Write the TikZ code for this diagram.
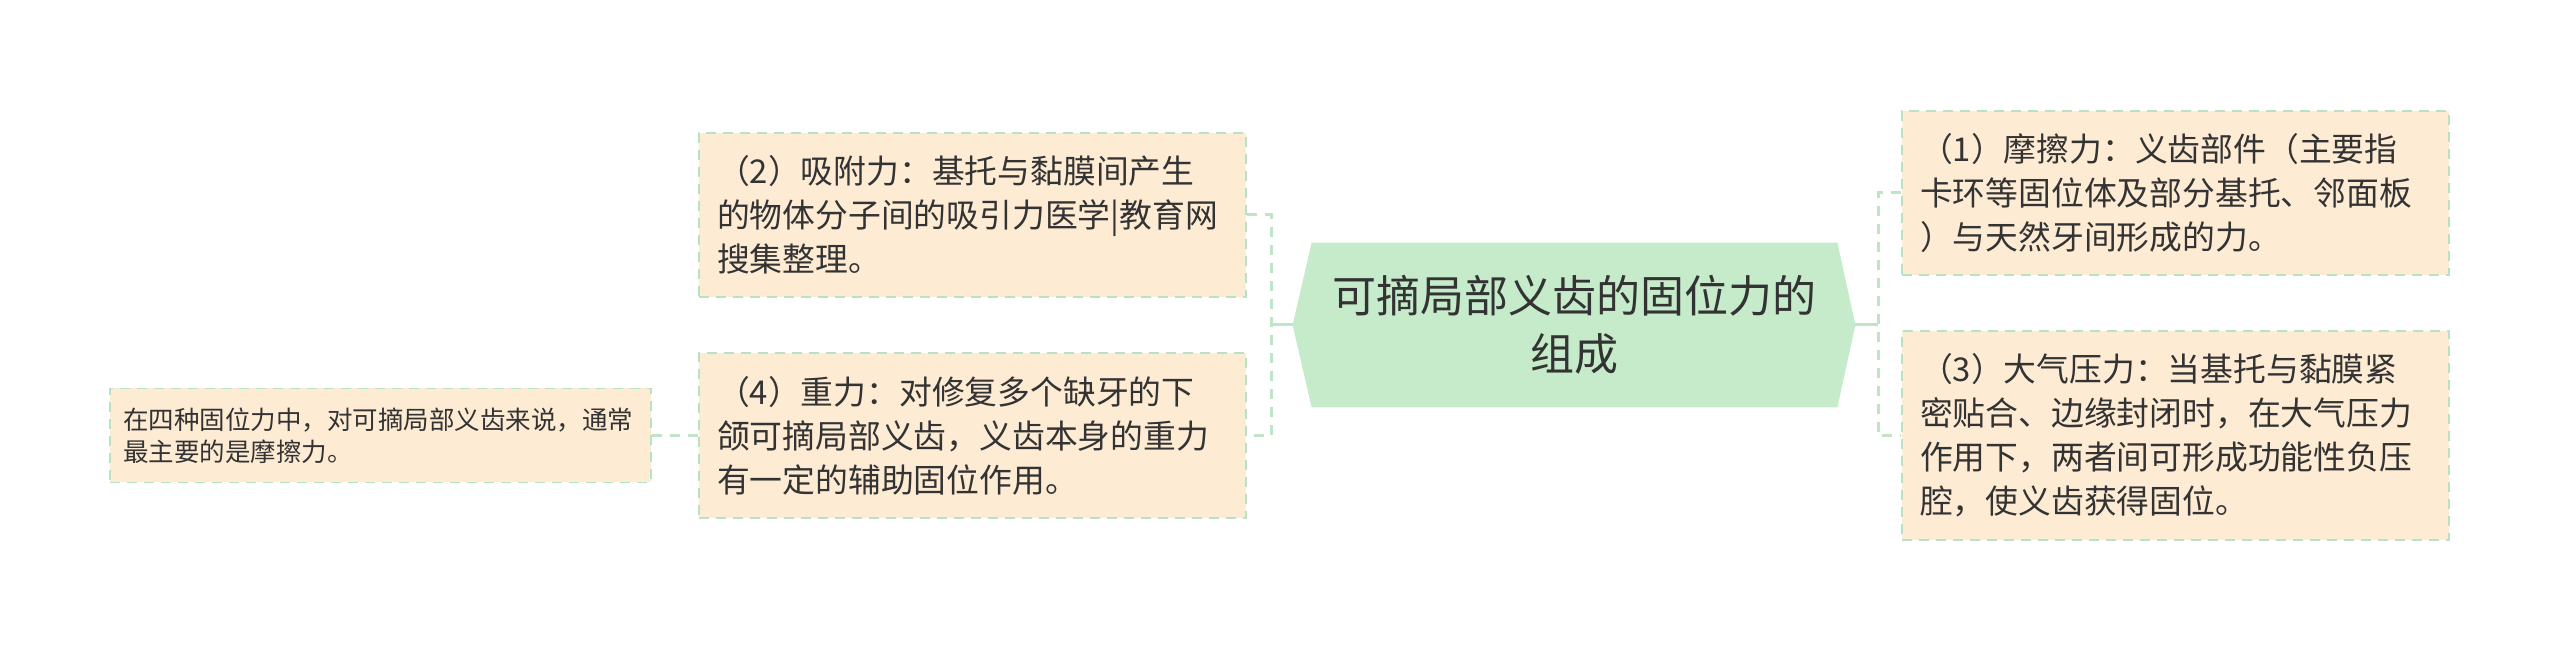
\documentclass[tikz,border=0pt]{standalone}
\usepackage{fontspec}
\setmainfont{Noto Sans CJK SC}
\usetikzlibrary{calc,backgrounds}
\definecolor{cfill}{HTML}{C6EBCB}
\definecolor{lfill}{HTML}{FDEBD4}
\definecolor{lline}{HTML}{B8E2C4}
\definecolor{conn}{HTML}{BFE5C6}
\definecolor{txt}{HTML}{333333}
\tikzset{
  centernode/.style={minimum width=262.5pt, minimum height=82pt, inner sep=0pt, align=center,
    text=txt, font=\fontsize{22pt}{29pt}\selectfont},
  leafbox/.style={draw=lline, fill=lfill, dashed, dash pattern=on 5pt off 3.5pt, line width=0.9pt,
    inner xsep=9pt, inner ysep=0pt, text width=255.5pt, align=left, text=txt,
    font=\fontsize{16.4pt}{22pt}\selectfont},
  notebox/.style={draw=lline, fill=lfill, dashed, dash pattern=on 5pt off 3.5pt, line width=0.9pt,
    inner xsep=6.5pt, inner ysep=0pt, text width=257.5pt, minimum height=47pt, align=left, text=txt,
    font=\fontsize{12.75pt}{16pt}\selectfont},
  link/.style={draw=conn, line width=1.5pt},
  dlink/.style={draw=conn, line width=1.5pt, dash pattern=on 5pt off 4pt},
}
\begin{document}
\begin{tikzpicture}[x=0.5pt,y=-0.5pt]
\useasboundingbox (0,0) rectangle (2560,651);
% central node
\node[centernode] (c) at (1574.5,325) {可摘局部义齿的固位力的\\组成};
\begin{scope}[on background layer]
\fill[cfill] (c.north west) -- (c.north east) -- ($(c.east)+(18,0)$) -- (c.south east)
  -- (c.south west) -- ($(c.west)+(-19,0)$) -- cycle;
\end{scope}
\coordinate (cl) at ($(c.west)+(-19,0)$);
\coordinate (cr) at ($(c.east)+(18,0)$);
% right leaves
\node[leafbox, minimum height=82pt] (b1) at (2175.5,193)
  {（1）摩擦力：义齿部件（主要指\\卡环等固位体及部分基托、邻面板\\）与天然牙间形成的力。};
\node[leafbox, minimum height=104.5pt] (b3) at (2175.5,435.5)
  {（3）大气压力：当基托与黏膜紧\\密贴合、边缘封闭时，在大气压力\\作用下，两者间可形成功能性负压\\腔，使义齿获得固位。};
% left leaves
\node[leafbox, minimum height=82pt] (b2) at (972.5,215)
  {（2）吸附力：基托与黏膜间产生\\的物体分子间的吸引力医学|教育网\\搜集整理。};
\node[leafbox, minimum height=82.5pt] (b4) at (972.5,435.5)
  {（4）重力：对修复多个缺牙的下\\颌可摘局部义齿，义齿本身的重力\\有一定的辅助固位作用。};
% note
\node[notebox] (s) at (380.5,435.5)
  {在四种固位力中，对可摘局部义齿来说，通常\\最主要的是摩擦力。};
% trunks
\coordinate (tr) at (1878,325);
\coordinate (tl) at (1271,325);
\draw[link] (cr) -- (tr);
\draw[link] (cl) -- (tl);
\draw[dlink] (b1.west) -| (tr) |- (b3.west);
\draw[dlink] (b2.east) -| (tl) |- (b4.east);
\draw[dlink] (s.east) -- (b4.west);
\end{tikzpicture}
\end{document}
